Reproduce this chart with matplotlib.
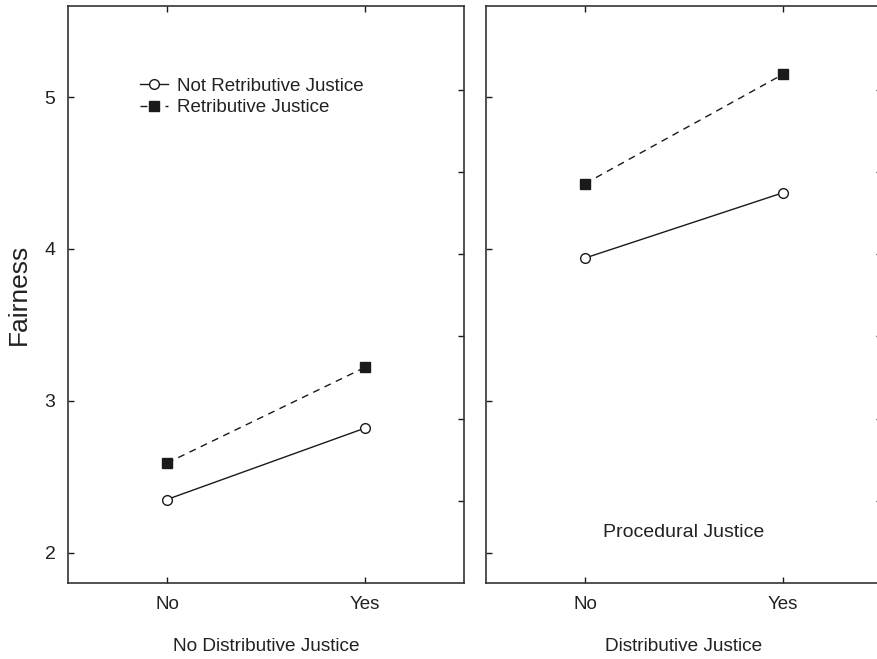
import matplotlib.pyplot as plt

plt.rcParams['font.family'] = ['Liberation Sans', 'DejaVu Sans']

# data
conditions = ["No", "Yes"]
panels = ["No Distributive Justice", "Distributive Justice"]
not_retributive = [[2.35, 2.82], [3.94, 4.37]]
retributive = [[2.59, 3.22], [4.43, 5.15]]
y_ticks = [2, 3, 4, 5]
right_ticks = [2.34, 2.88, 3.43, 3.97, 4.51, 5.05]

fig = plt.figure(figsize=(8.78, 6.59), dpi=100)
ax1 = fig.add_axes([0.0774, 0.1153, 0.451, 0.8756])
ax2 = fig.add_axes([0.5535, 0.1153, 0.451, 0.8756])

ink = "#1a1a1a"
txt = "#222222"
x = list(range(len(conditions)))

for i, ax in enumerate([ax1, ax2]):
    ax.plot(x, not_retributive[i], color=ink, lw=1.0, marker="o", ms=7,
            mfc="white", mec=ink, mew=1.0, label="Not Retributive Justice")
    ax.plot(x, retributive[i], color=ink, lw=1.0, ls=(0, (5, 4)), marker="s",
            ms=7, mfc=ink, mec=ink, label="Retributive Justice")
    ax.set_xlim(-0.5, 1.5)
    ax.set_ylim(1.8, 5.6)
    ax.set_xticks(x)
    ax.set_xticklabels(conditions, fontsize=13.5, color=txt)
    ax.set_yticks(y_ticks)
    ax.tick_params(direction="in", length=4, width=1, color=ink,
                   top=True, pad=9)
    ax.set_xlabel(panels[i], fontsize=13.7, color=txt, labelpad=18.5)
    for s in ax.spines.values():
        s.set_color("#333333")
        s.set_linewidth(1.2)
    # secondary tick marks on the right edge
    sec = ax.secondary_yaxis("right")
    sec.set_yticks(right_ticks)
    sec.tick_params(direction="in", length=4, width=1, color=ink,
                    labelright=False)
    sec.spines["right"].set_visible(False)

ax1.set_yticklabels([str(t) for t in y_ticks], fontsize=14, color=txt)
ax1.set_ylabel("Fairness", fontsize=19, color=txt, labelpad=10)
ax2.set_yticklabels([])

ax2.text(0.5, 0.088, "Procedural Justice", transform=ax2.transAxes,
         ha="center", va="center", fontsize=14, color=txt)

leg = ax1.legend(loc="upper left", bbox_to_anchor=(0.162, 0.889), frameon=False,
                 fontsize=13.5, handlelength=1.5, handletextpad=0.5,
                 labelspacing=0.25, borderaxespad=0)
for t in leg.get_texts():
    t.set_color(txt)

fig.savefig("out.png", dpi=100)
